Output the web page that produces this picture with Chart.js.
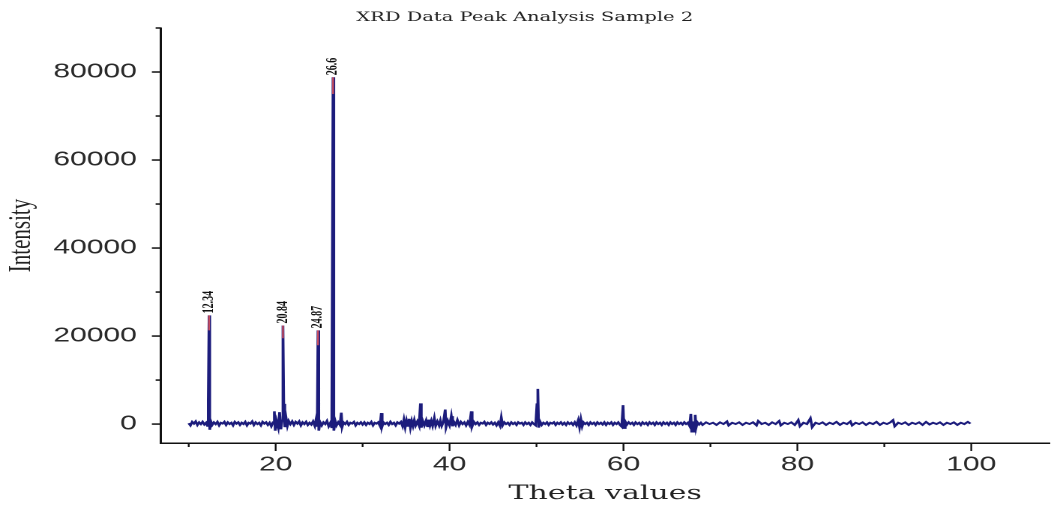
<!DOCTYPE html>
<html lang="en">
<head>
<meta charset="UTF-8">
<title>XRD Data Peak Analysis Sample 2</title>
<script src="https://cdn.jsdelivr.net/npm/chart.js@4.4.0/dist/chart.umd.min.js"></script>
<style>
html,body{margin:0;padding:0;background:#fff;overflow:hidden}
/* the reference is a squeezed figure stretched wide, so draw narrow and stretch */
#wrap{width:703px;height:506px;transform:scaleX(1.4993);transform-origin:0 0}
</style>
</head>
<body>
<div id="wrap"><canvas id="xrd" width="703" height="506"></canvas></div>

<script>
/* ---------- data ---------- */
const scan10to30 = [
  [10.0,200],[10.2,-300],[10.4,500],[10.6,100],[10.8,600],[11.0,-200],[11.2,400],[11.4,0],[11.6,500],[11.8,-100],
  [12.0,300],[12.15,-400],[12.25,5400],[12.34,24700],[12.42,-1300],[12.55,600],[12.7,-200],[12.9,400],[13.1,0],[13.3,500],
  [13.5,-300],[13.7,300],[13.9,100],[14.1,500],[14.3,-200],[14.5,400],[14.7,0],[14.9,300],[15.1,-300],[15.3,500],
  [15.5,100],[15.7,400],[15.9,-200],[16.1,300],[16.3,0],[16.5,500],[16.7,-300],[16.9,300],[17.1,100],[17.3,600],
  [17.5,-200],[17.7,400],[17.9,0],[18.1,300],[18.3,-300],[18.5,500],[18.7,100],[18.9,400],[19.1,-200],[19.3,300],
  [19.5,-500],[19.7,400],[19.85,2900],[19.95,-1500],[20.1,700],[20.3,-800],[20.45,2700],[20.6,-1200],[20.72,800],[20.84,22400],
  [20.93,4600],[21.05,-700],[21.2,1400],[21.35,-400],[21.5,700],[21.7,0],[21.9,600],[22.1,-200],[22.3,500],[22.5,100],
  [22.7,600],[22.9,-300],[23.1,400],[23.3,0],[23.5,500],[23.7,-200],[23.9,300],[24.1,-100],[24.3,600],[24.5,-400],
  [24.65,1100],[24.78,-600],[24.87,21300],[24.96,-1500],[25.1,500],[25.3,-300],[25.5,400],[25.7,0],[25.9,700],[26.1,-500],
  [26.3,300],[26.45,-900],[26.6,78800],[26.66,40800],[26.72,-1500],[26.85,700],[27.0,-300],[27.2,400],[27.4,-200],[27.55,2600],
  [27.65,-600],[27.8,400],[28.0,0],[28.2,500],[28.4,-200],[28.6,300],[28.8,100],[29.0,500],[29.2,-300],[29.4,300],
  [29.6,0],[29.8,400],[30.0,-100]
];
const scan30to60 = [
  [30.2,400],[30.4,-200],[30.6,300],[30.8,0],[31.0,500],[31.2,-300],[31.4,300],[31.6,100],[31.8,400],[32.0,-400],
  [32.15,2500],[32.25,-500],[32.4,400],[32.6,0],[32.8,300],[33.0,-200],[33.2,500],[33.4,0],[33.6,300],[33.8,-300],
  [34.0,400],[34.2,100],[34.4,500],[34.6,-500],[34.75,1000],[34.9,-700],[35.05,800],[35.2,-400],[35.35,1200],[35.5,-800],
  [35.65,700],[35.8,-400],[35.95,900],[36.1,-300],[36.3,600],[36.5,-400],[36.65,4700],[36.75,-800],[36.9,800],[37.1,-300],
  [37.3,800],[37.45,-500],[37.6,1000],[37.75,-300],[37.9,700],[38.05,-400],[38.25,1400],[38.4,-400],[38.6,600],[38.8,-300],
  [38.95,800],[39.1,-400],[39.3,500],[39.5,3300],[39.6,-700],[39.8,700],[40.0,-300],[40.2,1800],[40.35,-500],[40.5,500],
  [40.7,-200],[40.9,900],[41.1,-300],[41.3,500],[41.5,0],[41.7,400],[41.9,-300],[42.1,500],[42.3,-200],[42.5,2900],
  [42.6,-500],[42.8,500],[43.0,0],[43.2,400],[43.4,-200],[43.6,300],[43.8,100],[44.0,500],[44.2,-200],[44.4,300],
  [44.6,0],[44.8,400],[45.0,-100],[45.2,300],[45.4,-300],[45.6,400],[45.8,-400],[45.95,1500],[46.1,-300],[46.3,400],
  [46.5,0],[46.7,300],[46.9,-200],[47.1,400],[47.3,0],[47.5,300],[47.7,-200],[47.9,400],[48.1,100],[48.3,300],
  [48.5,-200],[48.7,400],[48.9,0],[49.1,300],[49.3,-200],[49.5,400],[49.7,0],[49.9,-300],[50.05,4500],[50.15,8000],
  [50.25,-800],[50.4,600],[50.6,-200],[50.8,300],[51.0,0],[51.2,400],[51.4,-200],[51.6,300],[51.8,100],[52.0,400],
  [52.2,-200],[52.4,300],[52.6,0],[52.8,400],[53.0,-100],[53.2,300],[53.4,-200],[53.6,400],[53.8,0],[54.0,300],
  [54.2,-200],[54.4,400],[54.6,-300],[54.8,900],[54.95,-700],[55.1,1100],[55.25,-500],[55.4,400],[55.6,0],[55.8,300],
  [56.0,-200],[56.2,400],[56.4,0],[56.6,300],[56.8,-200],[57.0,400],[57.2,0],[57.4,300],[57.6,-100],[57.8,400],
  [58.0,-200],[58.2,300],[58.4,0],[58.6,400],[58.8,-200],[59.0,300],[59.2,0],[59.4,400],[59.6,-200],[59.8,-600],
  [59.95,4300],[60.05,-900],[60.2,600],[60.4,-100],[60.6,400],[60.8,0]
];
const scan60to100 = [
  [61.0,300],[61.2,-200],[61.4,400],[61.6,0],[61.8,300],[62.0,-200],[62.2,400],[62.4,0],[62.6,300],[62.8,-200],
  [63.0,400],[63.2,0],[63.4,300],[63.6,-200],[63.8,400],[64.0,0],[64.2,300],[64.4,-200],[64.6,400],[64.8,0],
  [65.0,300],[65.2,-200],[65.4,400],[65.6,0],[65.8,300],[66.0,-200],[66.2,400],[66.4,0],[66.6,300],[66.8,-100],
  [67.0,400],[67.2,0],[67.4,300],[67.6,-400],[67.75,2300],[67.85,-1900],[68.0,600],[68.15,-1700],[68.25,2100],[68.35,-800],
  [68.5,400],[68.7,-100],[68.9,300],[69.1,-200],[69.5,400],[69.9,0],[70.3,300],[70.7,-200],[71.1,400],[71.5,0],
  [71.9,600],[72.1,-300],[72.5,300],[72.9,0],[73.3,400],[73.7,-200],[74.1,300],[74.5,0],[74.9,400],[75.3,-300],
  [75.5,700],[75.9,0],[76.3,300],[76.7,-200],[77.1,400],[77.5,0],[77.9,700],[78.1,-300],[78.5,300],[78.9,0],
  [79.3,400],[79.7,-200],[80.1,900],[80.3,-500],[80.7,300],[81.1,0],[81.5,1300],[81.7,-700],[82.1,300],[82.5,0],
  [82.9,400],[83.3,-200],[83.7,300],[84.1,0],[84.5,500],[84.9,-200],[85.3,300],[85.7,0],[86.1,600],[86.3,-300],
  [86.7,300],[87.1,0],[87.5,400],[87.9,-200],[88.3,300],[88.7,0],[89.1,500],[89.5,-200],[89.9,300],[90.3,0],
  [90.7,400],[91.0,900],[91.2,-500],[91.6,300],[92.0,0],[92.4,400],[92.8,-200],[93.2,300],[93.6,0],[94.0,400],
  [94.4,-200],[94.8,500],[95.2,-100],[95.6,300],[96.0,0],[96.4,400],[96.8,-200],[97.2,300],[97.6,0],[98.0,400],
  [98.4,-200],[98.8,300],[99.2,0],[99.6,500],[99.9,100]
];

// labelled peaks: position, top of the peak, foot of the red marker
const peakTheta  = [12.34, 20.84, 24.87, 26.6];
const peakTop    = [24700, 22400, 21300, 78800];
const markerFoot = [21300, 19500, 17900, 75000];
const peakLabels = ['12.34', '20.84', '24.87', '26.6'];

// axis ticks
const xTickValues = [10, 20, 30, 40, 50, 60, 70, 80, 90, 100];
const xTickLabels = ['', '20', '', '40', '', '60', '', '80', '', '100'];
const yTickValues = [0, 10000, 20000, 30000, 40000, 50000, 60000, 70000, 80000, 90000];
const yTickLabels = ['0', '', '20000', '', '40000', '', '60000', '', '80000', ''];

/* ---------- build datasets ---------- */
const scanPoints = [...scan10to30, ...scan30to60, ...scan60to100].map(([x,y])=>({x,y}));
const markerPoints = [];
peakTheta.forEach((t,i)=>{
  markerPoints.push({x:t,y:markerFoot[i]},{x:t,y:peakTop[i]},{x:t,y:null});
});

/* ---------- small plugins ---------- */
// outward tick marks, long on the labelled ticks, short in between
const tickMarks = {
  id:'tickMarks',
  afterDraw(chart){
    const {ctx, scales:{x, y}} = chart;
    ctx.save();
    ctx.strokeStyle = '#111';
    ctx.lineWidth = 1.2;
    x.ticks.forEach((t,i)=>{
      const px = x.getPixelForValue(t.value);
      const len = xTickLabels[i] ? 8 : 4;
      ctx.beginPath(); ctx.moveTo(px, x.top); ctx.lineTo(px, x.top + len); ctx.stroke();
    });
    ctx.lineWidth = 1.5;
    y.ticks.forEach((t,i)=>{
      const py = y.getPixelForValue(t.value);
      const len = yTickLabels[i] ? 6 : 3.5;
      ctx.beginPath(); ctx.moveTo(y.right, py); ctx.lineTo(y.right - len, py); ctx.stroke();
    });
    ctx.restore();
  }
};

// rotated peak labels sitting on top of each marked peak
const peakText = {
  id:'peakText',
  afterDatasetsDraw(chart){
    const {ctx, scales:{x, y}} = chart;
    ctx.save();
    ctx.fillStyle = '#111';
    ctx.font = 'bold 10px "Liberation Serif", serif';
    ctx.textAlign = 'left';
    ctx.textBaseline = 'middle';
    peakTheta.forEach((t,i)=>{
      ctx.save();
      ctx.translate(x.getPixelForValue(t), y.getPixelForValue(peakTop[i]) - 2);
      ctx.rotate(-Math.PI/2);
      ctx.fillText(peakLabels[i], 0, 0);
      ctx.restore();
    });
    ctx.restore();
  }
};

/* ---------- chart ---------- */
new Chart(document.getElementById('xrd'), {
  type:'scatter',
  data:{datasets:[
    {label:'peak markers', data:markerPoints, showLine:true, spanGaps:false,
     borderColor:'rgba(240,90,90,0.8)', borderWidth:1.2, pointRadius:0},
    {label:'Intensity', data:scanPoints, showLine:true,
     borderColor:'#1c1c7c', borderWidth:1.8, pointRadius:0, tension:0}
  ]},
  options:{
    responsive:false, animation:false, devicePixelRatio:2,
    layout:{padding:{left:0, right:3, top:0, bottom:0}},
    plugins:{
      legend:{display:false}, tooltip:{enabled:false},
      title:{display:true, text:'XRD Data Peak Analysis Sample 2', color:'#222',
        font:{family:'"DejaVu Serif", serif', size:13, weight:'normal'},
        padding:{top:9, bottom:2.4}}
    },
    scales:{
      x:{type:'linear', min:6.8, max:109,
        ticks:{autoSkip:false, maxRotation:0, padding:10, color:'#2a2a2a',
          font:{family:'"Liberation Sans", Arial, sans-serif', size:20},
          callback:(v,i)=> xTickLabels[i]},
        afterBuildTicks:s=>{ s.ticks = xTickValues.map(v=>({value:v})); },
        afterFit:s=>{ s.height = 63; },
        grid:{display:true, drawOnChartArea:false, drawTicks:false},
        border:{display:true, color:'#111', width:1.5},
        title:{display:true, text:'Theta values', color:'#222',
          font:{family:'"DejaVu Serif", serif', size:20}, padding:{top:0, bottom:0}}
      },
      y:{type:'linear', min:-4300, max:90000,
        ticks:{autoSkip:false, padding:16, color:'#2a2a2a',
          font:{family:'"Liberation Sans", Arial, sans-serif', size:20},
          callback:(v,i)=> yTickLabels[i]},
        afterBuildTicks:s=>{ s.ticks = yTickValues.map(v=>({value:v})); },
        afterFit:s=>{ s.width = 107.3; },
        grid:{display:true, drawOnChartArea:false, drawTicks:false},
        border:{display:true, color:'#111', width:1.5},
        title:{display:true, text:'Intensity', color:'#222',
          font:{family:'"Liberation Serif", serif', size:21}, padding:{top:2, bottom:0}}
      }
    }
  },
  plugins:[tickMarks, peakText]
});
</script>
</body>
</html>
